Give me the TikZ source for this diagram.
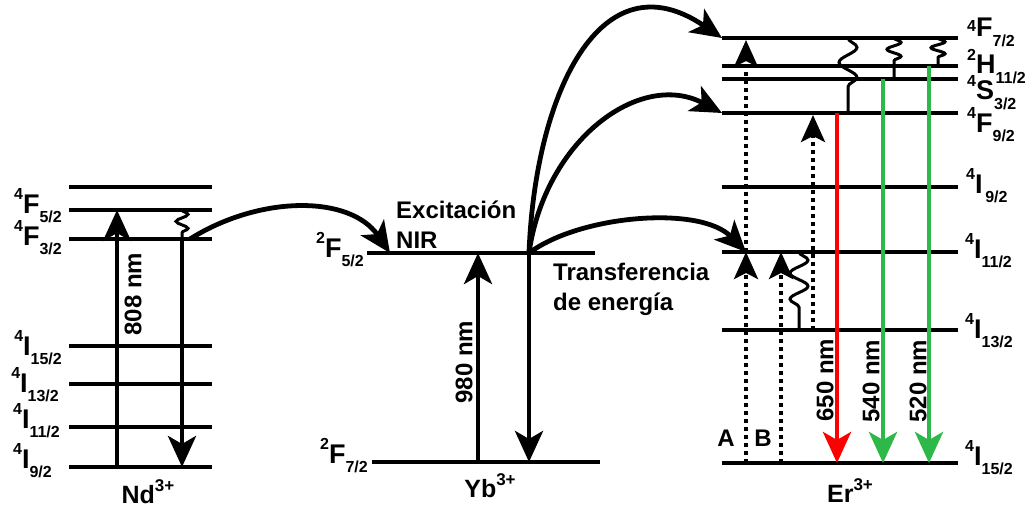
\documentclass[tikz,border=0pt]{standalone}
\usepackage{fontspec}
\setmainfont{Liberation Sans}
\usetikzlibrary{arrows.meta, positioning, decorations.pathmorphing}
\definecolor{redline}{RGB}{255,0,0}
\definecolor{greenline}{RGB}{46,184,74}
\newcommand{\lvlterm}[4][0.5em]{\raisebox{#1}{\fontsize{16}{16}\selectfont #2}#3\raisebox{-0.36em}{\fontsize{16}{16}\selectfont #4}}
\newcommand{\ionname}[2]{#1\raisebox{0.45em}{\fontsize{17}{17}\selectfont #2}}

\begin{document}
\begin{tikzpicture}[x=1pt, y=-1pt,
  lvl/.style={line width=4.2pt},
  jump/.style={line width=4.8pt, -{Stealth[length=31pt, width=28pt, inset=8pt]}},
  dotjump/.style={line width=4pt, dash pattern=on 4pt off 4pt,
    -{Stealth[length=27pt, width=24pt, inset=6pt]}},
  wavy/.style n args={3}{line width=3pt, decorate,
    decoration={snake, amplitude=#1, segment length=#2, post length=#3}},
  lvllabel/.style={font=\fontsize{27}{27}\selectfont\bfseries, inner sep=0pt},
  txt/.style={font=\fontsize{24}{30}\selectfont\bfseries, inner sep=0pt}]
  \useasboundingbox (0,0) rectangle (1035,508);

  \foreach \n/\y in {top/187, F5/210, F3/239, I15/346, I13/384, I11/427, I9/467}
    \draw[lvl] (69,\y) coordinate (nd\n) -- (212,\y);
  \draw[lvl] (367,253) coordinate (ybF5) -- (595,253);
  \draw[lvl] (372,462) coordinate (ybF7) -- (600,462);
  \foreach \n/\y in {F7/38, H11/66, S3/79, F9/113, I9/187, I11/252, I13/330, I15/463}
    \draw[lvl] (722,\y) coordinate (er\n) -- (958,\y);

  \node[lvllabel, anchor=base east] (lndF5) at (62,213) {\lvlterm{4}{F}{5/2}};
  \node[lvllabel, anchor=base east] (lndF3) at (62,245) {\lvlterm{4}{F}{3/2}};
  \node[lvllabel, anchor=base east] (lndI15) at (62,355) {\lvlterm{4}{I}{15/2}};
  \node[lvllabel, anchor=base east] (lndI13) at (59,392) {\lvlterm{4}{I}{13/2}};
  \node[lvllabel, anchor=base east] (lndI11) at (60,428) {\lvlterm{4}{I}{11/2}};
  \node[lvllabel, anchor=base east] (lndI9) at (52,468) {\lvlterm{4}{I}{9/2}};
  \node[lvllabel, anchor=base east] (lybF5) at (364,257) {\lvlterm{2}{F}{5/2}};
  \node[lvllabel, anchor=base east] (lybF7) at (368,463) {\lvlterm{2}{F}{7/2}};
  \node[lvllabel, anchor=base west] (lerF7) at (967,37) {\lvlterm[0.2em]{4}{F}{7/2}};
  \node[lvllabel, anchor=base west] (lerH11) at (967,74) {\lvlterm{2}{H}{11/2}};
  \node[lvllabel, anchor=base west] (lerS3) at (967,100) {\lvlterm{4}{S}{3/2}};
  \node[lvllabel, anchor=base west] (lerF9) at (967,132) {\lvlterm{4}{F}{9/2}};
  \node[lvllabel, anchor=base west] (lerI9) at (966,193) {\lvlterm{4}{I}{\,9/2}};
  \node[lvllabel, anchor=base west] (lerI11) at (965,258) {\lvlterm{4}{I}{11/2}};
  \node[lvllabel, anchor=base west] (lerI13) at (965,338) {\lvlterm{4}{I}{13/2}};
  \node[lvllabel, anchor=base west] (lerI15) at (965,465) {\lvlterm{4}{I}{15/2}};

  \coordinate (c808) at (117,0);
  \coordinate (cnd) at (182,0);
  \coordinate (c980) at (478,0);
  \coordinate (cyb) at (529,0);
  \coordinate (cA) at (746,0);
  \coordinate (cB) at (781,0);
  \coordinate (cw) at (799,0);
  \coordinate (cup) at (813,0);
  \coordinate (c650) at (837,0);
  \coordinate (w1) at (848,0);
  \coordinate (c540) at (883,0);
  \coordinate (w2) at (894,0);
  \coordinate (c520) at (929,0);
  \coordinate (w3) at (938,0);

  \draw[jump] (c808 |- ndI9) -- (c808 |- ndF5);
  \draw[wavy={6pt}{14pt}{0pt}] (cnd |- ndF5) -- (cnd |- ndF3);
  \draw[jump] (cnd |- ndF3) -- (cnd |- ndI9);
  \node[txt, rotate=90] (l808) at (133,294) {808 nm};

  \draw[jump] (c980 |- ybF7) -- (c980 |- ybF5);
  \draw[jump] (cyb |- ybF5) -- (cyb |- ybF7);
  \node[txt, rotate=90] (l980) at (464,362) {980 nm};

  \coordinate (ndout) at (190,239);
  \coordinate (ybin) at (390,253);
  \draw[jump] (ndout) .. controls +(70,-44) and +(-40,-58) .. (ybin);
  \draw[jump] (cyb |- ybF5) .. controls +(51,-38) and +(-46,-47) .. (cA |- erI11);
  \draw[jump] (cyb |- ybF5) .. controls +(16,-113) and +(-82,-43) .. (erF9);
  \draw[jump] (cyb |- ybF5) .. controls +(6,-158) and +(-122,-83) .. (erF7);

  \node[txt, anchor=north west, align=left] (exc) at (396,201) {Excitación\\NIR};
  \node[txt, anchor=north west, align=left] (transf) at (553,263) {Transferencia\\de energía};

  \draw[dotjump] (cA |- erI15) -- (cA |- erI11);
  \draw[dotjump] (cA |- erI11) -- ([yshift=-2pt]cA |- erF7);
  \draw[dotjump] (cB |- erI15) -- (cB |- erI11);
  \draw[wavy={9pt}{26pt}{20pt}] (cw |- erI11) -- (cw |- erI13);
  \draw[dotjump] (cup |- erI13) -- ([yshift=-2pt]cup |- erF9);
  \draw[wavy={9pt}{30pt}{15pt}] (w1 |- erF7) -- (w1 |- erF9);
  \draw[wavy={7pt}{14pt}{13pt}] (w2 |- erF7) -- (w2 |- erS3);
  \draw[wavy={7pt}{12pt}{7pt}] (w3 |- erF7) -- (w3 |- erH11);
  \draw[jump, redline] (c650 |- erF9) -- (c650 |- erI15);
  \draw[jump, greenline] (c540 |- erS3) -- (c540 |- erI15);
  \draw[jump, greenline] (c520 |- erH11) -- (c520 |- erI15);
  \node[txt, rotate=90] (l650) at (825,380) {650 nm};
  \node[txt, rotate=90] (l540) at (871,381) {540 nm};
  \node[txt, rotate=90] (l520) at (918,381) {520 nm};
  \node[txt] (lA) at (726,438) {A};
  \node[txt] (lB) at (763,438) {B};

  \node[txt, font=\fontsize{25}{30}\selectfont\bfseries, anchor=base] (nd) at (148,503) {\ionname{Nd}{3+}};
  \node[txt, font=\fontsize{25}{30}\selectfont\bfseries, anchor=base] (yb) at (490,497) {\ionname{Yb}{3+}};
  \node[txt, font=\fontsize{25}{30}\selectfont\bfseries, anchor=base] (er) at (850,502) {\ionname{Er}{3+}};
\end{tikzpicture}
\end{document}
